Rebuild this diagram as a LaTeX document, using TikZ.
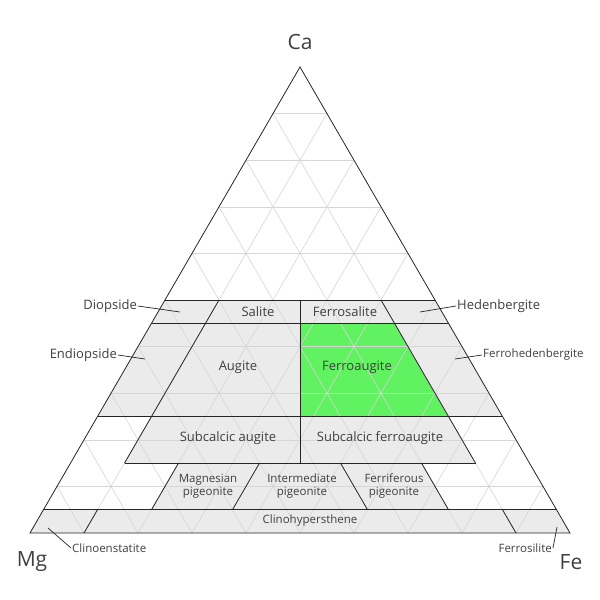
\documentclass[tikz,border=0pt]{standalone}
\usepackage{fontspec}
\setmainfont{Open Sans}
\begin{document}
\begin{tikzpicture}[x=1pt,y=-1pt,
  lab/.style={text=black!75,font=\fontsize{13}{15}\selectfont,inner sep=1pt},
  slab/.style={text=black!75,font=\fontsize{11.5}{13}\selectfont,inner sep=1pt,align=center},
  big/.style={text=black!75,font=\fontsize{21}{24}\selectfont,inner sep=1pt},
  fillz/.style={fill=black!8},
  gridl/.style={black!16,line width=0.6pt},
  bl/.style={black!85,line width=0.8pt},
  lead/.style={black!85,line width=0.7pt}]
\newcommand\tp[2]{({30+540*(#1+#2/2)},{533-466*#2})}
\fill[white] (0,0) rectangle (600,600);
\useasboundingbox (0,0) rectangle (600,600);
% fills
\fill[fillz] \tp{0}{0.45} -- \tp{0.55}{0.45} -- \tp{0.5}{0.5} -- \tp{0}{0.5} -- cycle;
\fill[fillz] \tp{0}{0.25} -- \tp{0.75}{0.25} -- \tp{0.55}{0.45} -- \tp{0}{0.45} -- cycle;
\fill[fillz] \tp{0.1}{0.15} -- \tp{0.75}{0.15} -- \tp{0.65}{0.25} -- \tp{0.1}{0.25} -- cycle;
\fill[fillz] \tp{0.2}{0.05} -- \tp{0.75}{0.05} -- \tp{0.65}{0.15} -- \tp{0.2}{0.15} -- cycle;
\fill[fillz] \tp{0}{0} -- \tp{1}{0} -- \tp{0.95}{0.05} -- \tp{0}{0.05} -- cycle;
\fill[green!60!white!95!black] \tp{0.275}{0.45} -- \tp{0.45}{0.45} -- \tp{0.65}{0.25} -- \tp{0.375}{0.25} -- cycle;
% grid
\foreach \k in {1,...,9}{
  \pgfmathsetmacro\q{\k/10}
  \pgfmathsetmacro\r{1-\k/10}
  \draw[gridl] \tp{0}{\q} -- \tp{\r}{\q};
  \draw[gridl] \tp{\q}{0} -- \tp{\q}{\r};
  \draw[gridl] \tp{\r}{0} -- \tp{0}{\r};
}
% boundaries
\draw[bl] \tp{0}{0.5} -- \tp{0.5}{0.5};
\draw[bl] \tp{0}{0.45} -- \tp{0.55}{0.45};
\draw[bl] \tp{0}{0.25} -- \tp{0.75}{0.25};
\draw[bl] \tp{0.1}{0.15} -- \tp{0.75}{0.15};
\draw[bl] \tp{0}{0.05} -- \tp{0.95}{0.05};
\draw[bl] \tp{0.25}{0.5} -- \tp{0.425}{0.15};
\draw[bl] \tp{0.1}{0.5} -- \tp{0.1}{0.15};
\draw[bl] \tp{0.4}{0.5} -- \tp{0.75}{0.15};
\draw[bl] \tp{0.2}{0.15} -- \tp{0.2}{0.05};
\draw[bl] \tp{0.35}{0.15} -- \tp{0.35}{0.05};
\draw[bl] \tp{0.5}{0.15} -- \tp{0.6}{0.05};
\draw[bl] \tp{0.65}{0.15} -- \tp{0.75}{0.05};
\draw[bl] \tp{0.1}{0.05} -- \tp{0.1}{0};
\draw[bl] \tp{0.85}{0.05} -- \tp{0.9}{0};
\draw[bl] \tp{0}{0} -- \tp{1}{0} -- \tp{0}{1} -- cycle;
% vertices
\node[big] (ca) at (300,42) {Ca};
\node[big] (mg) at (32,562) {Mg};
\node[big] (fe) at (571,562) {Fe};
% region labels
\node[lab] (sal) at (258,312) {Salite};
\node[lab] (fsal) at (345,312) {Ferrosalite};
\node[lab] (aug) at (238,367) {Augite};
\node[lab] (faug) at (357,367) {Ferroaugite};
\node[lab] (saug) at (228,438) {Subcalcic augite};
\node[lab] (sfaug) at (380,438) {Subcalcic ferroaugite};
\node[slab] (mpig) at (208,486) {Magnesian\\pigeonite};
\node[slab] (ipig) at (302,486) {Intermediate\\pigeonite};
\node[slab] (fpig) at (394,486) {Ferriferous\\pigeonite};
\node[slab] (chy) at (310,521) {Clinohypersthene};
% outside labels
\node[lab,anchor=east] (dio) at (138,306) {Diopside};
\node[lab,anchor=west] (hed) at (456,306) {Hedenbergite};
\node[lab,anchor=east] (end) at (118,355) {Endiopside};
\node[slab,anchor=west] (fhed) at (482,355) {Ferrohedenbergite};
\node[slab,anchor=west] (cen) at (71,548) {Clinoenstatite};
\node[slab,anchor=east] (fsi) at (553,548) {Ferrosilite};
\coordinate (pdio) at (180,312);
\coordinate (phed) at (420,312);
\coordinate (pend) at (145,359);
\coordinate (pfhed) at (455,359);
\coordinate (pcen) at (48,528);
\coordinate (pfsi) at (557,527);
\draw[lead] (dio.east) -- (pdio);
\draw[lead] (hed.west) -- (phed);
\draw[lead] (end.east) -- (pend);
\draw[lead] (fhed.west) -- (pfhed);
\draw[lead] (cen.west) -- (pcen);
\draw[lead] (fsi.east) -- (pfsi);
\end{tikzpicture}
\end{document}
